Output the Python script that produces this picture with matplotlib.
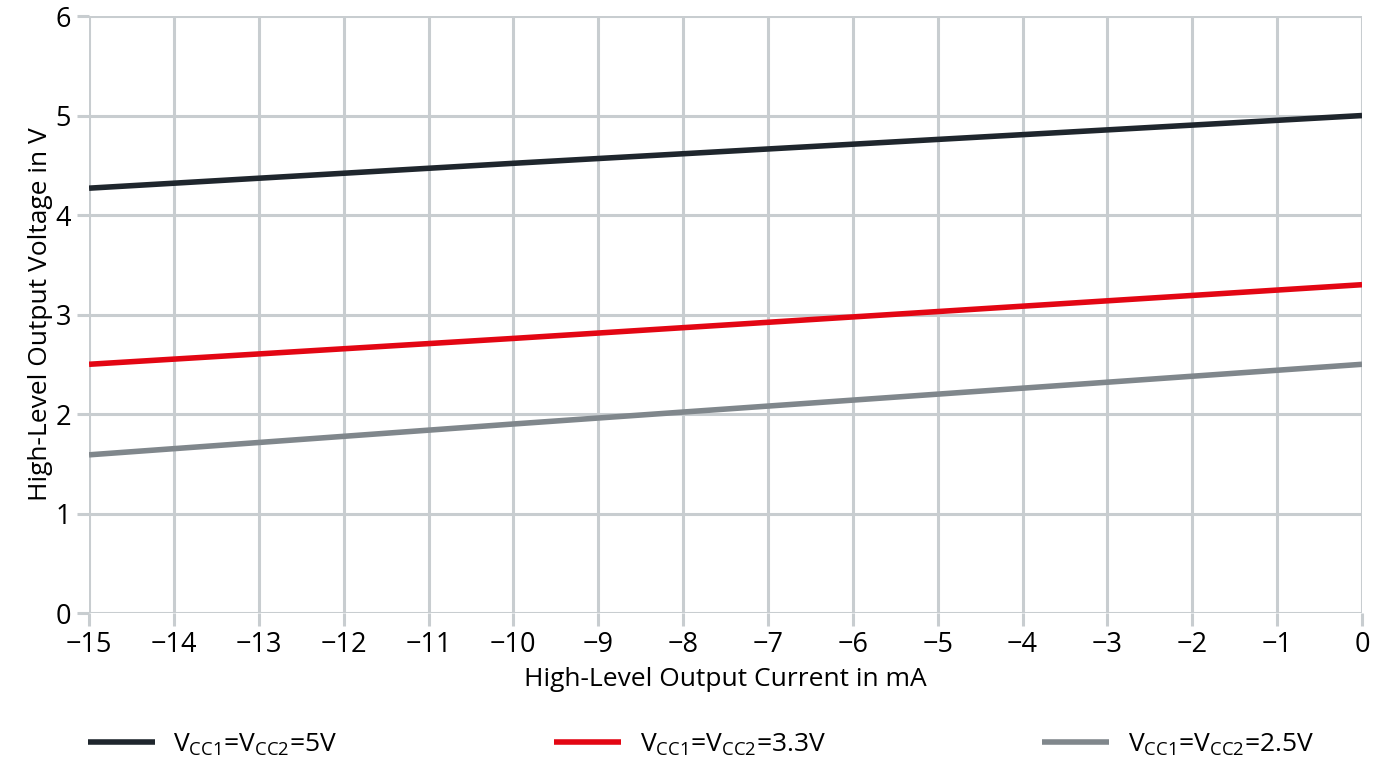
import matplotlib
matplotlib.use("Agg")
import matplotlib.pyplot as plt

plt.rcParams['font.family'] = ['Open Sans', 'DejaVu Sans']
plt.rcParams['mathtext.fontset'] = 'custom'
plt.rcParams['mathtext.rm'] = 'Open Sans'

current = [-15, -10, -5, 0]
v_5 = [4.27, 4.52, 4.76, 5.00]
v_33 = [2.50, 2.76, 3.03, 3.30]
v_25 = [1.59, 1.90, 2.20, 2.50]
labels = [r'V$_{\mathrm{CC1}}$=V$_{\mathrm{CC2}}$=5V',
          r'V$_{\mathrm{CC1}}$=V$_{\mathrm{CC2}}$=3.3V',
          r'V$_{\mathrm{CC1}}$=V$_{\mathrm{CC2}}$=2.5V']
colors = ['#1f262d', '#e30613', '#80878c']
xticks = list(range(-15, 1))
yticks = list(range(0, 7))

fig = plt.figure(figsize=(13.87, 7.64), dpi=100)
ax = fig.add_axes([0.0642, 0.1976, 0.9178, 0.7814])
for y, c, l in zip([v_5, v_33, v_25], colors, labels):
    ax.plot(current, y, color=c, lw=4, label=l, solid_capstyle='butt', zorder=3)

ax.set_xlim(-15, 0)
ax.set_ylim(0, 6)
ax.set_xticks(xticks)
ax.set_yticks(yticks)
ax.grid(True, color='#c8cdd0', lw=2.2)
for s in ax.spines.values():
    s.set_visible(False)
ax.tick_params(axis='both', color='#c8cdd0', width=2.2, length=9, labelsize=19.5, pad=4)
ax.set_xlabel('High-Level Output Current in mA', fontsize=19, labelpad=6)
ax.set_ylabel('High-Level Output Voltage in V', fontsize=19, labelpad=2)

fig.legend(loc='center left', bbox_to_anchor=(0.046, 0.025), ncol=3, frameon=False,
           fontsize=19, handlelength=2.55, handletextpad=0.7, columnspacing=8.2)
fig.savefig('out.png', dpi=100)
